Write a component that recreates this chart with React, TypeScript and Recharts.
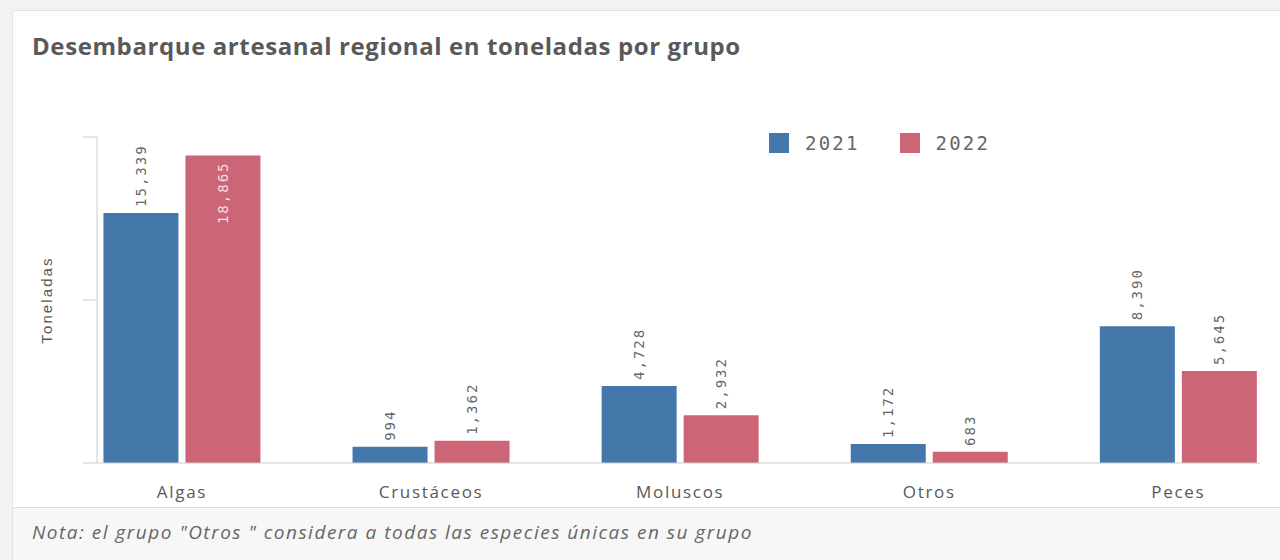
import React from 'react';
import { BarChart, Bar, XAxis, YAxis, Legend, LabelList } from 'recharts';

const categories = ['Algas', 'Crustáceos', 'Moluscos', 'Otros', 'Peces'];
const values2021 = [15339, 994, 4728, 1172, 8390];
const values2022 = [18865, 1362, 2932, 683, 5645];
const seriesNames = ['2021', '2022'];
const yTicks = [0, 10000, 20000];
const yDomain = [0, 20000];

const TITLE = 'Desembarque artesanal regional en toneladas por grupo';
const NOTE = 'Nota: el grupo "Otros " considera a todas las especies únicas en su grupo';
const Y_LABEL = 'Toneladas';

const BLUE = '#4477aa';
const RED = '#cc6677';
const TEXT = '#595959';
const AXIS = '#cccccc';

const PLOT_TOP = 137;
const LABEL_CHAR = 10.4;

// category positions on a numeric axis (index), with the Qlik-like edge offsets
const catIndex = categories.map((_, i) => i);
const xDomain = [-0.3412, 4.3276];

const data = categories.map((c, i) => ({
  idx: catIndex[i],
  cat: c,
  v2021: values2021[i],
  v2022: values2022[i],
}));

const fmt = (v: number) => v.toString().replace(/\B(?=(\d{3})+(?!\d))/g, ',');

const ValueLabel = (props: any) => {
  const { x, y, width, value } = props;
  const cx = Number(x) + Number(width) / 2;
  const top = Number(y);
  const text = fmt(Number(value));
  const len = text.length * LABEL_CHAR;
  const inside = top - 6 - len < PLOT_TOP;
  const ay = inside ? top + 6 : top - 6;
  return (
    <text
      x={cx}
      y={ay}
      transform={`rotate(-90, ${cx}, ${ay})`}
      textAnchor={inside ? 'end' : 'start'}
      dominantBaseline="central"
      fontFamily="'DejaVu Sans Mono', monospace"
      fontSize={14}
      letterSpacing={2}
      fill={inside ? '#f7dfe3' : '#666666'}
    >
      {text}
    </text>
  );
};

const EmptyTick = () => <g />;

const LegendContent = (props: any) => {
  const { payload } = props;
  return (
    <div style={{ display: 'flex', alignItems: 'center', whiteSpace: 'nowrap' }}>
      {(payload || []).map((p: any, i: number) => (
        <div key={i} style={{ display: 'flex', alignItems: 'center', marginRight: 40 }}>
          <div style={{ width: 20, height: 20, background: p.color, marginRight: 16, flexShrink: 0 }} />
          <span
            style={{
              fontFamily: "'DejaVu Sans Mono', monospace",
              fontSize: 19,
              letterSpacing: 2.2,
              color: '#666666',
            }}
          >
            {p.value}
          </span>
        </div>
      ))}
    </div>
  );
};

const YLabel = (props: any) => {
  const vb = props.viewBox || {};
  const cx = vb.x + vb.width / 2 - 2;
  const cy = vb.y + vb.height / 2;
  return (
    <text
      x={cx}
      y={cy}
      transform={`rotate(-90, ${cx}, ${cy})`}
      textAnchor="middle"
      dominantBaseline="central"
      fontFamily="'Liberation Sans', Arial, sans-serif"
      fontSize={15}
      letterSpacing={2.1}
      fill={TEXT}
    >
      {Y_LABEL}
    </text>
  );
};

export default function App() {
  return (
    <div
      style={{
        position: 'absolute',
        left: 0,
        top: 0,
        width: 1280,
        height: 560,
        background: '#f2f2f2',
        overflow: 'hidden',
      }}
    >
      <div
        style={{
          position: 'absolute',
          left: 12,
          top: 10,
          width: 1290,
          height: 560,
          background: '#ffffff',
          border: '1px solid #e2e2e2',
          borderRadius: 4,
        }}
      />
      <div
        style={{
          position: 'absolute',
          left: 32,
          top: 29,
          fontFamily: "'Open Sans', sans-serif",
          fontWeight: 700,
          fontSize: 24,
          letterSpacing: 0.6,
          color: TEXT,
          whiteSpace: 'nowrap',
        }}
      >
        {TITLE}
      </div>
      <div style={{ position: 'absolute', left: 0, top: 0 }}>
        <BarChart
          width={1280}
          height={560}
          data={data}
          margin={{ top: PLOT_TOP, right: 20, bottom: 57, left: 0 }}
          barSize={75}
          barGap={7}
        >
          <XAxis
            type="number"
            dataKey="idx"
            domain={xDomain}
            ticks={catIndex}
            tickFormatter={(v: number) => categories[v] ?? ''}
            axisLine={{ stroke: AXIS }}
            tickLine={false}
            tickSize={0}
            tickMargin={23}
            height={40}
            tick={{ fill: TEXT, fontSize: 17, fontFamily: "'Open Sans', sans-serif", letterSpacing: 1.7 }}
            interval={0}
          />
          <YAxis
            width={97}
            domain={yDomain}
            ticks={yTicks}
            axisLine={{ stroke: AXIS }}
            tickLine={{ stroke: AXIS }}
            tickSize={14}
            tick={EmptyTick}
            label={<YLabel />}
          />
          <Legend
            layout="horizontal"
            verticalAlign="middle"
            align="right"
            wrapperStyle={{
              position: 'absolute',
              top: 132,
              left: 769,
              width: 0,
              height: 0,
              overflow: 'visible',
            }}
            content={<LegendContent />}
          />
          <Bar dataKey="v2021" name={seriesNames[0]} fill={BLUE} isAnimationActive={false}>
            <LabelList dataKey="v2021" content={<ValueLabel />} />
          </Bar>
          <Bar dataKey="v2022" name={seriesNames[1]} fill={RED} isAnimationActive={false}>
            <LabelList dataKey="v2022" content={<ValueLabel />} />
          </Bar>
        </BarChart>
      </div>
      <div
        style={{
          position: 'absolute',
          left: 13,
          top: 507,
          width: 1280,
          height: 60,
          background: '#f7f7f7',
          borderTop: '1px solid #dddddd',
        }}
      />
      <div
        style={{
          position: 'absolute',
          left: 32,
          top: 519,
          fontFamily: "'Open Sans', sans-serif",
          fontStyle: 'italic',
          fontSize: 19,
          letterSpacing: 1.5,
          color: '#666666',
          whiteSpace: 'nowrap',
        }}
      >
        {NOTE}
      </div>
    </div>
  );
}
